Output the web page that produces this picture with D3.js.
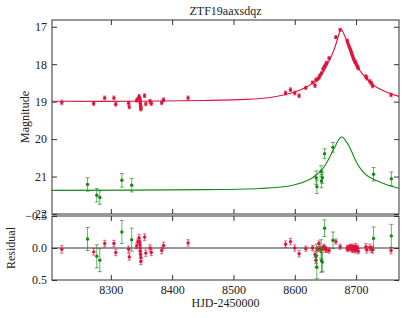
<!DOCTYPE html>
<html>
<head>
<meta charset="utf-8">
<script src="https://cdn.jsdelivr.net/npm/d3@7"></script>
<style>
  body { margin: 0; background: #fff; }
  svg { font-family: "Liberation Serif", serif; }
</style>
</head>
<body>
<div id="chart"></div>
<script>
// r band points: [hjd, mag, err, residual]
var rPoints = [
  [8220, 19.02, 0.06, 0.02], [8272, 19.05, 0.05, 0.06], [8290, 18.90, 0.05, -0.07],
  [8305, 18.90, 0.05, -0.07], [8308, 19.07, 0.05, 0.07], [8329, 19.04, 0.05, 0.02],
  [8330, 19.14, 0.05, 0.14], [8342, 18.97, 0.04, -0.03], [8344, 18.93, 0.04, -0.10],
  [8346, 18.86, 0.05, -0.16], [8347, 18.90, 0.04, -0.10], [8347.5, 18.95, 0.04, -0.05],
  [8348, 19.00, 0.04, 0.00], [8348, 19.05, 0.04, 0.05], [8348.5, 19.10, 0.04, 0.10],
  [8349, 19.15, 0.05, 0.15], [8349, 19.20, 0.05, 0.21], [8355, 18.84, 0.05, -0.17],
  [8357, 19.06, 0.05, 0.08], [8364, 18.99, 0.05, 0.00], [8366, 19.05, 0.05, 0.07],
  [8383, 19.03, 0.05, 0.04], [8386, 18.95, 0.05, -0.04], [8426, 18.90, 0.05, -0.08],
  [8585, 18.77, 0.05, -0.06], [8593, 18.68, 0.05, -0.10], [8600, 18.77, 0.05, 0.00],
  [8607, 18.84, 0.05, 0.09], [8618, 18.63, 0.04, 0.01], [8629, 18.49, 0.04, 0.00],
  [8633, 18.57, 0.05, 0.10], [8634.5, 18.42, 0.05, 0.19], [8637, 18.40, 0.04, 0.02],
  [8639.5, 18.36, 0.04, -0.07], [8641, 18.30, 0.04, 0.02], [8643.5, 18.24, 0.04, 0.03],
  [8646, 18.13, 0.04, 0.00], [8648, 18.07, 0.04, -0.02], [8650, 18.02, 0.04, 0.02],
  [8652, 17.96, 0.04, 0.03], [8656, 17.84, 0.04, 0.04], [8667, 17.28, 0.04, -0.10],
  [8674, 17.08, 0.04, -0.02], [8685.5, 17.37, 0.04, 0.00], [8686.5, 17.43, 0.04, 0.02],
  [8688, 17.50, 0.04, 0.00], [8689.5, 17.56, 0.04, -0.01], [8691, 17.62, 0.04, -0.02],
  [8692, 17.67, 0.04, 0.01], [8693, 17.72, 0.04, 0.00], [8694, 17.77, 0.04, 0.03],
  [8695, 17.81, 0.04, -0.02], [8696, 17.86, 0.04, 0.02], [8697.5, 17.91, 0.04, 0.00],
  [8698.5, 17.94, 0.04, 0.04], [8699.5, 17.97, 0.04, -0.03], [8701, 18.02, 0.04, 0.02],
  [8702.5, 18.07, 0.04, 0.00], [8703.5, 18.11, 0.04, 0.05], [8716, 18.33, 0.05, -0.02],
  [8717.5, 18.37, 0.05, 0.03], [8722.5, 18.46, 0.05, -0.01], [8725, 18.51, 0.05, 0.02],
  [8727, 18.58, 0.05, 0.03], [8757, 18.82, 0.05, 0.04]
];

// g band points: [hjd, mag, err, residual]
var gPoints = [
  [8262, 21.21, 0.18, -0.14], [8277, 21.50, 0.18, 0.13], [8282, 21.56, 0.18, 0.19],
  [8318, 21.10, 0.18, -0.25], [8334, 21.23, 0.18, -0.13], [8635, 21.03, 0.18, 0.12],
  [8636, 21.27, 0.18, 0.30], [8643, 20.86, 0.15, 0.02], [8643.5, 21.12, 0.18, 0.20],
  [8645, 21.03, 0.15, 0.22], [8648.6, 20.39, 0.13, -0.31], [8662.3, 20.22, 0.13, -0.12],
  [8728.5, 20.94, 0.18, -0.15], [8757.5, 21.06, 0.18, -0.19]
];

// model curves: [hjd, mag]
var rModel = [
  [8204, 18.99], [8350, 18.99], [8450, 18.97], [8520, 18.94], [8560, 18.89], [8585, 18.81],
  [8600, 18.74], [8615, 18.64], [8630, 18.50], [8640, 18.36], [8648, 18.17], [8655, 17.95],
  [8662, 17.70], [8668, 17.42], [8672, 17.20], [8675, 17.07], [8678, 17.12], [8682, 17.27],
  [8688, 17.50], [8695, 17.80], [8703, 18.08], [8712, 18.30], [8722, 18.47], [8735, 18.63],
  [8750, 18.75], [8770, 18.86]
];
var gModel = [
  [8204, 21.37], [8450, 21.35], [8543, 21.32], [8597, 21.23], [8625, 21.07], [8636, 20.94],
  [8645, 20.80], [8652, 20.63], [8660, 20.38], [8666, 20.19], [8671, 20.03], [8675, 19.95],
  [8678, 19.95], [8682, 20.02], [8688, 20.17], [8694, 20.38], [8700, 20.60], [8706, 20.76],
  [8713, 20.90], [8722, 21.02], [8735, 21.12], [8752, 21.23], [8772, 21.32]
];

var xTicks = [8300, 8400, 8500, 8600, 8700];
var magTicks = [17, 18, 19, 20, 21, 22];
var resTicks = [-0.5, 0, 0.5];

var W = 407, H = 318;
var left = 52, right = 399;
var mainTop = 20, mainBottom = 214, resTop = 216, resBottom = 280;
var red = "#dc143c", green = "#138a13", axisColor = "#333";
var serif = "'Liberation Serif', serif";

var svg = d3.select("#chart").append("svg")
  .attr("width", W).attr("height", H);

var x = d3.scaleLinear().domain([8204, 8770]).range([left, right]);
var yMag = d3.scaleLinear().domain([16.82, 22.0]).range([mainTop, mainBottom]);
var yRes = d3.scaleLinear().domain([-0.5, 0.5]).range([resTop, resBottom]);

// clip paths
svg.append("clipPath").attr("id", "clipMain").append("rect")
  .attr("x", left).attr("y", mainTop).attr("width", right - left).attr("height", mainBottom - mainTop);
svg.append("clipPath").attr("id", "clipRes").append("rect")
  .attr("x", left).attr("y", resTop).attr("width", right - left).attr("height", resBottom - resTop);

// ---- main panel
var main = svg.append("g").attr("clip-path", "url(#clipMain)");
var line = d3.line().x(d => x(d[0])).y(d => yMag(d[1])).curve(d3.curveCatmullRom);

main.append("path").datum(rModel).attr("d", line)
  .attr("fill", "none").attr("stroke", red).attr("stroke-width", 1.1);
main.append("path").datum(gModel).attr("d", line)
  .attr("fill", "none").attr("stroke", green).attr("stroke-width", 1.1);

function errorBars(g, data, color, yScale, valIdx, capW) {
  var eb = g.append("g").attr("stroke", color).attr("stroke-opacity", 0.65).attr("stroke-width", 1);
  data.forEach(d => {
    var cx = x(d[0]), y0 = yScale(d[valIdx] - d[2]), y1 = yScale(d[valIdx] + d[2]);
    eb.append("line").attr("x1", cx).attr("x2", cx).attr("y1", y0).attr("y2", y1);
    eb.append("line").attr("x1", cx - capW).attr("x2", cx + capW).attr("y1", y0).attr("y2", y0);
    eb.append("line").attr("x1", cx - capW).attr("x2", cx + capW).attr("y1", y1).attr("y2", y1);
  });
  g.append("g").selectAll("circle").data(data).enter().append("circle")
    .attr("cx", d => x(d[0])).attr("cy", d => yScale(d[valIdx]))
    .attr("r", 1.7).attr("fill", color);
}

errorBars(main, rPoints, red, yMag, 1, 1.6);
errorBars(main, gPoints, green, yMag, 1, 2);

// ---- residual panel
var res = svg.append("g").attr("clip-path", "url(#clipRes)");
res.append("line").attr("x1", left).attr("x2", right)
  .attr("y1", yRes(0)).attr("y2", yRes(0))
  .attr("stroke", axisColor).attr("stroke-width", 1);

errorBars(res, rPoints, red, yRes, 3, 1.6);
errorBars(res, gPoints, green, yRes, 3, 2);

// ---- axes
function styleAxis(g) {
  g.select(".domain").remove();
  g.attr("font-family", serif).attr("font-size", 12);
  g.selectAll(".tick line").attr("stroke", axisColor);
  g.selectAll(".tick text").attr("fill", "#222");
}

svg.append("g").attr("transform", `translate(${left},0)`)
  .call(d3.axisLeft(yMag).tickValues(magTicks).tickSizeInner(-5).tickSizeOuter(0).tickPadding(5).tickFormat(d3.format("d")))
  .call(styleAxis);
svg.append("g").attr("transform", `translate(${right},0)`)
  .call(d3.axisRight(yMag).tickValues(magTicks).tickSizeInner(-5).tickSizeOuter(0).tickFormat(""))
  .call(styleAxis);
svg.append("g").attr("transform", `translate(0,${mainTop})`)
  .call(d3.axisTop(x).tickValues(xTicks).tickSizeInner(-5).tickSizeOuter(0).tickFormat(""))
  .call(styleAxis);
svg.append("g").attr("transform", `translate(0,${mainBottom})`)
  .call(d3.axisBottom(x).tickValues(xTicks).tickSizeInner(-5).tickSizeOuter(0).tickFormat(""))
  .call(styleAxis);

svg.append("g").attr("transform", `translate(${left},0)`)
  .call(d3.axisLeft(yRes).tickValues(resTicks).tickSizeInner(-5).tickSizeOuter(0).tickPadding(5).tickFormat(d3.format(".1f")))
  .call(styleAxis);
svg.append("g").attr("transform", `translate(${right},0)`)
  .call(d3.axisRight(yRes).tickValues(resTicks).tickSizeInner(-5).tickSizeOuter(0).tickFormat(""))
  .call(styleAxis);
svg.append("g").attr("transform", `translate(0,${resTop})`)
  .call(d3.axisTop(x).tickValues(xTicks).tickSizeInner(-5).tickSizeOuter(0).tickFormat(""))
  .call(styleAxis);
svg.append("g").attr("transform", `translate(0,${resBottom})`)
  .call(d3.axisBottom(x).tickValues(xTicks).tickSizeInner(-5).tickSizeOuter(0).tickPadding(5).tickFormat(d3.format("d")))
  .call(styleAxis);

// frames
[[mainTop, mainBottom], [resTop, resBottom]].forEach(p => {
  svg.append("rect").attr("x", left).attr("y", p[0])
    .attr("width", right - left).attr("height", p[1] - p[0])
    .attr("fill", "none").attr("stroke", axisColor).attr("stroke-width", 1);
});

// labels
svg.append("text").attr("x", (left + right) / 2).attr("y", 15)
  .attr("text-anchor", "middle").attr("font-size", 12).attr("fill", "#222")
  .text("ZTF19aaxsdqz");
svg.append("text").attr("x", (left + right) / 2).attr("y", 307)
  .attr("text-anchor", "middle").attr("font-size", 12).attr("fill", "#222")
  .text("HJD-2450000");
svg.append("text").attr("transform", `translate(29,${(mainTop + mainBottom) / 2}) rotate(-90)`)
  .attr("text-anchor", "middle").attr("font-size", 12).attr("fill", "#222")
  .text("Magnitude");
svg.append("text").attr("transform", `translate(15,${(resTop + resBottom) / 2}) rotate(-90)`)
  .attr("text-anchor", "middle").attr("font-size", 12).attr("fill", "#222")
  .text("Residual");
</script>
</body>
</html>
